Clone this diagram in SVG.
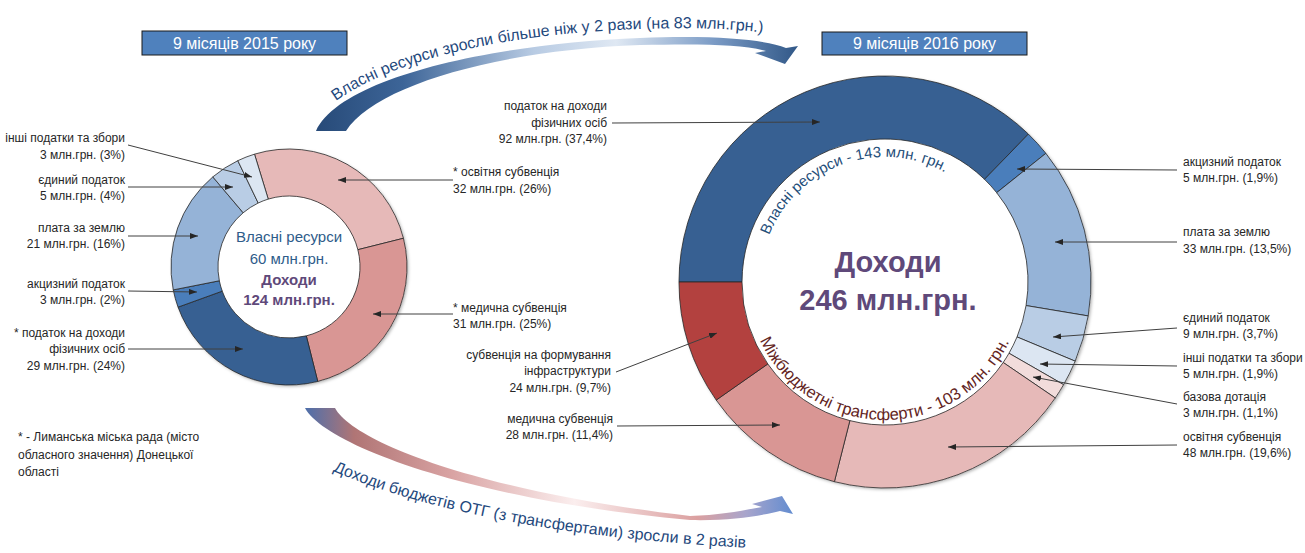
<svg xmlns="http://www.w3.org/2000/svg" width="1305" height="553" viewBox="0 0 1305 553">
<defs>
<style>
text{font-family:"Liberation Sans",Arial,sans-serif;}
.lbl{font-size:12px;fill:#262626;}
.end{text-anchor:end;}
.seg{stroke:#262626;stroke-width:0.8;}
.lead{stroke:#404040;stroke-width:1;fill:none;marker-end:url(#ah);}
.hdr{fill:#4f81bd;stroke:#1a1a1a;stroke-width:1;}
.hdrt{font-size:16px;fill:#ffffff;text-anchor:middle;}
.ctr{text-anchor:middle;}
.blue{fill:#2e5c8a;}
.purp{fill:#5f497a;font-weight:bold;}
.arrt{font-size:16px;fill:#1f497d;}
.shadow{fill:#ffffff;filter:url(#sh);}
</style>
<marker id="ah" viewBox="0 0 8 6" refX="8" refY="3" markerWidth="8" markerHeight="6" markerUnits="userSpaceOnUse" orient="auto"><path d="M0,0 L8,3 L0,6 Z" fill="#262626"/></marker>
<filter id="sh" x="-10%" y="-10%" width="120%" height="120%"><feDropShadow dx="1.5" dy="1.5" stdDeviation="1.5" flood-color="#000" flood-opacity="0.3"/></filter>
<linearGradient id="gTop" gradientUnits="userSpaceOnUse" x1="316" y1="0" x2="800" y2="0">
<stop offset="0" stop-color="#274a78"/><stop offset="0.18" stop-color="#3d6598"/><stop offset="0.45" stop-color="#b8cbe3"/><stop offset="0.62" stop-color="#dfe8f3"/><stop offset="0.82" stop-color="#7c9cc6"/><stop offset="1" stop-color="#2f5686"/>
</linearGradient>
<linearGradient id="gBot" gradientUnits="userSpaceOnUse" x1="305" y1="0" x2="795" y2="0">
<stop offset="0" stop-color="#4d6fab"/><stop offset="0.1" stop-color="#b07575"/><stop offset="0.3" stop-color="#d9a3a3"/><stop offset="0.55" stop-color="#fbeeee"/><stop offset="0.8" stop-color="#dba0a0"/><stop offset="0.9" stop-color="#a8a5cc"/><stop offset="1" stop-color="#5f8bd0"/>
</linearGradient>
<path id="pTop" d="M336,101 C 400,55 520,33 640,29 C 700,27 740,29 772,34"/>
<path id="pBot" d="M333,471 Q 480,534 752,548"/>
<path id="arcTop" d="M769.1,235.17 A125,125 0 0 1 980.76,201.65"/>
<path id="arcBot" d="M759.93,340.32 A138,138 0 0 0 1018.3,317.72"/>
</defs>
<rect width="1305" height="553" fill="#ffffff"/>

<g id="header-2015"><rect class="hdr" x="142" y="31" width="205" height="24"/><text class="hdrt" x="244.5" y="49">9 місяців 2015 року</text></g>
<g id="header-2016"><rect class="hdr" x="822" y="32" width="205" height="23"/><text class="hdrt" x="924.5" y="49">9 місяців 2016 року</text></g>

<g id="arrow-own-resources">
<path d="M316,131 C 340,78 490,44 640,38 C 720,35 765,40 786,48 L798,46 L785,64 L755,53 L766,51 C 740,44 700,44 640,45 C 500,50 375,85 346,131 Z" fill="url(#gTop)"/>
<text class="arrt"><textPath href="#pTop">Власні ресурси</textPath></text>
<text class="arrt"><textPath href="#pTop" startOffset="118">зросли більше ніж у 2 рази (на 83 млн.грн.)</textPath></text>
</g>
<g id="arrow-income">
<path d="M305,408 C 325,445 470,500 690,520 C 730,521 760,516 780,511 L793,514 L782,496 L752,504 L762,507 C 740,511 720,515 690,516 C 470,490 352,440 335,408 Z" fill="url(#gBot)"/>
<text class="arrt"><textPath href="#pBot">Доходи бюджетів ОТГ (з трансфертами) зросли в 2 разів</textPath></text>
</g>

<g id="donut-2015">
<circle class="shadow" cx="289" cy="267" r="118"/>
<path id="s15-osv" class="seg" fill="#e6b9b8" d="M254.5,154.16 A118,118 0 0 1 403.44,238.26 L357.86,249.7 A71,71 0 0 0 268.24,199.1 Z"/>
<path id="s15-med" class="seg" fill="#d99694" d="M403.44,238.26 A118,118 0 0 1 317.75,381.44 L306.3,335.86 A71,71 0 0 0 357.86,249.7 Z"/>
<path id="s15-pdfo" class="seg" fill="#376092" d="M317.75,381.44 A118,118 0 0 1 178.05,307.16 L222.24,291.17 A71,71 0 0 0 306.3,335.86 Z"/>
<path id="s15-akc" class="seg" fill="#4a7ebb" d="M178.05,307.16 A118,118 0 0 1 173.24,289.9 L219.35,280.78 A71,71 0 0 0 222.24,291.17 Z"/>
<path id="s15-plata" class="seg" fill="#95b3d7" d="M173.24,289.9 A118,118 0 0 1 212.81,176.89 L243.16,212.78 A71,71 0 0 0 219.35,280.78 Z"/>
<path id="s15-ed" class="seg" fill="#b9cde5" d="M212.81,176.89 A118,118 0 0 1 237.82,160.68 L258.2,203.03 A71,71 0 0 0 243.16,212.78 Z"/>
<path id="s15-inshi" class="seg" fill="#dce6f2" d="M237.82,160.68 A118,118 0 0 1 254.5,154.16 L268.24,199.1 A71,71 0 0 0 258.2,203.03 Z"/>
</g>
<g id="center-2015" font-size="15">
<text class="ctr blue" x="289" y="242">Власні ресурси</text>
<text class="ctr blue" x="289" y="264">60 млн.грн.</text>
<text class="ctr purp" x="289" y="285">Доходи</text>
<text class="ctr purp" x="289" y="305">124 млн.грн.</text>
</g>

<g id="donut-2016">
<circle class="shadow" cx="885" cy="282" r="206"/>
<path id="s16-pdfo" class="seg" fill="#376092" d="M679,282 A206,206 0 0 1 1028.38,134.07 L984.53,179.31 A143,143 0 0 0 742,282 Z"/>
<path id="s16-akc" class="seg" fill="#4a7ebb" d="M1028.38,134.07 A206,206 0 0 1 1045.89,153.33 L996.68,192.68 A143,143 0 0 0 984.53,179.31 Z"/>
<path id="s16-plata" class="seg" fill="#95b3d7" d="M1045.89,153.33 A206,206 0 0 1 1088.19,315.93 L1026.05,305.55 A143,143 0 0 0 996.68,192.68 Z"/>
<path id="s16-ed" class="seg" fill="#b9cde5" d="M1088.19,315.93 A206,206 0 0 1 1075.18,361.17 L1017.02,336.95 A143,143 0 0 0 1026.05,305.55 Z"/>
<path id="s16-inshi" class="seg" fill="#dce6f2" d="M1075.18,361.17 A206,206 0 0 1 1063.6,384.66 L1008.98,353.26 A143,143 0 0 0 1017.02,336.95 Z"/>
<path id="s16-baz" class="seg" fill="#f2dcdb" d="M1063.6,384.66 A206,206 0 0 1 1055.27,397.96 L1003.19,362.49 A143,143 0 0 0 1008.98,353.26 Z"/>
<path id="s16-osv" class="seg" fill="#e6b9b8" d="M1055.27,397.96 A206,206 0 0 1 834.4,481.69 L849.87,420.62 A143,143 0 0 0 1003.19,362.49 Z"/>
<path id="s16-med" class="seg" fill="#d99694" d="M834.4,481.69 A206,206 0 0 1 716.19,400.08 L767.82,363.96 A143,143 0 0 0 849.87,420.62 Z"/>
<path id="s16-infra" class="seg" fill="#b3413f" d="M716.19,400.08 A206,206 0 0 1 679,282 L742,282 A143,143 0 0 0 767.82,363.96 Z"/>
</g>
<g id="center-2016">
<text class="ctr purp" x="888" y="272" font-size="29">Доходи</text>
<text class="ctr purp" x="888" y="310" font-size="29">246 млн.грн.</text>
<text font-size="15" fill="#1f4e79"><textPath href="#arcTop">Власні ресурси - 143 млн. грн.</textPath></text>
<text font-size="16.5" fill="#632523"><textPath href="#arcBot">Міжбюджетні трансферти - 103 млн. грн.</textPath></text>
</g>

<g id="connectors">
<path class="lead" d="M128,145 L252,177"/>
<path class="lead" d="M128,187 L233,187"/>
<path class="lead" d="M128,236 L198,236"/>
<path class="lead" d="M128,291 L197,292"/>
<path class="lead" d="M128,349 L243,349"/>
<path class="lead" d="M453,180 L338,180"/>
<path class="lead" d="M453,314 L373,314"/>
<path class="lead" d="M612,123 L820,122"/>
<path class="lead" d="M616,372 L717,333"/>
<path class="lead" d="M617,426 L780,425"/>
<path class="lead" d="M1177,170 L1017,169"/>
<path class="lead" d="M1177,242 L1055,242"/>
<path class="lead" d="M1177,328 L1053,337"/>
<path class="lead" d="M1177,366 L1040,364"/>
<path class="lead" d="M1177,404 L1033,377"/>
<path class="lead" d="M1177,445 L948,447"/>
</g>

<g id="labels-2015-left" class="lbl">
<g id="l15-inshi"><text class="end" x="125" y="142">інші податки та збори</text><text class="end" x="125" y="159">3 млн.грн.  (3%)</text></g>
<g id="l15-ed"><text class="end" x="125" y="184">єдиний податок</text><text class="end" x="125" y="200">5 млн.грн.  (4%)</text></g>
<g id="l15-plata"><text class="end" x="125" y="232">плата за землю</text><text class="end" x="125" y="248">21 млн.грн.  (16%)</text></g>
<g id="l15-akc"><text class="end" x="125" y="288">акцизний податок</text><text class="end" x="125" y="304">3 млн.грн.  (2%)</text></g>
<g id="l15-pdfo"><text class="end" x="125" y="337">* податок на доходи</text><text class="end" x="125" y="353">фізичних осіб</text><text class="end" x="125" y="370">29 млн.грн.  (24%)</text></g>
</g>
<g id="labels-2015-right" class="lbl">
<g id="l15-osv"><text x="453" y="176">* освітня субвенція</text><text x="453" y="193">32 млн.грн.  (26%)</text></g>
<g id="l15-med"><text x="453" y="312">* медична субвенція</text><text x="453" y="328">31 млн.грн.  (25%)</text></g>
</g>
<g id="labels-2016-left" class="lbl">
<g id="l16-pdfo"><text class="end" x="607" y="110">податок на доходи</text><text class="end" x="607" y="127">фізичних осіб</text><text class="end" x="607" y="143">92 млн.грн.  (37,4%)</text></g>
<g id="l16-infra"><text class="end" x="611" y="359">субвенція на формування</text><text class="end" x="611" y="375">інфраструктури</text><text class="end" x="611" y="392">24 млн.грн.  (9,7%)</text></g>
<g id="l16-med"><text class="end" x="613" y="423">медична субвенція</text><text class="end" x="613" y="439">28 млн.грн.  (11,4%)</text></g>
</g>
<g id="labels-2016-right" class="lbl">
<g id="l16-akc"><text x="1183" y="166">акцизний податок</text><text x="1183" y="182">5 млн.грн.  (1,9%)</text></g>
<g id="l16-plata"><text x="1183" y="236">плата за землю</text><text x="1183" y="253">33 млн.грн.  (13,5%)</text></g>
<g id="l16-ed"><text x="1183" y="322">єдиний податок</text><text x="1183" y="338">9 млн.грн.  (3,7%)</text></g>
<g id="l16-inshi"><text x="1183" y="362">інші податки та збори</text><text x="1183" y="378">5 млн.грн.  (1,9%)</text></g>
<g id="l16-baz"><text x="1183" y="401">базова дотація</text><text x="1183" y="417">3 млн.грн.  (1,1%)</text></g>
<g id="l16-osv"><text x="1183" y="441">освітня субвенція</text><text x="1183" y="457">48 млн.грн.  (19,6%)</text></g>
</g>
<g id="footnote" class="lbl">
<text x="18" y="441">* - Лиманська міська рада (місто</text>
<text x="18" y="459">обласного значення) Донецької</text>
<text x="18" y="476">області</text>
</g>
</svg>
